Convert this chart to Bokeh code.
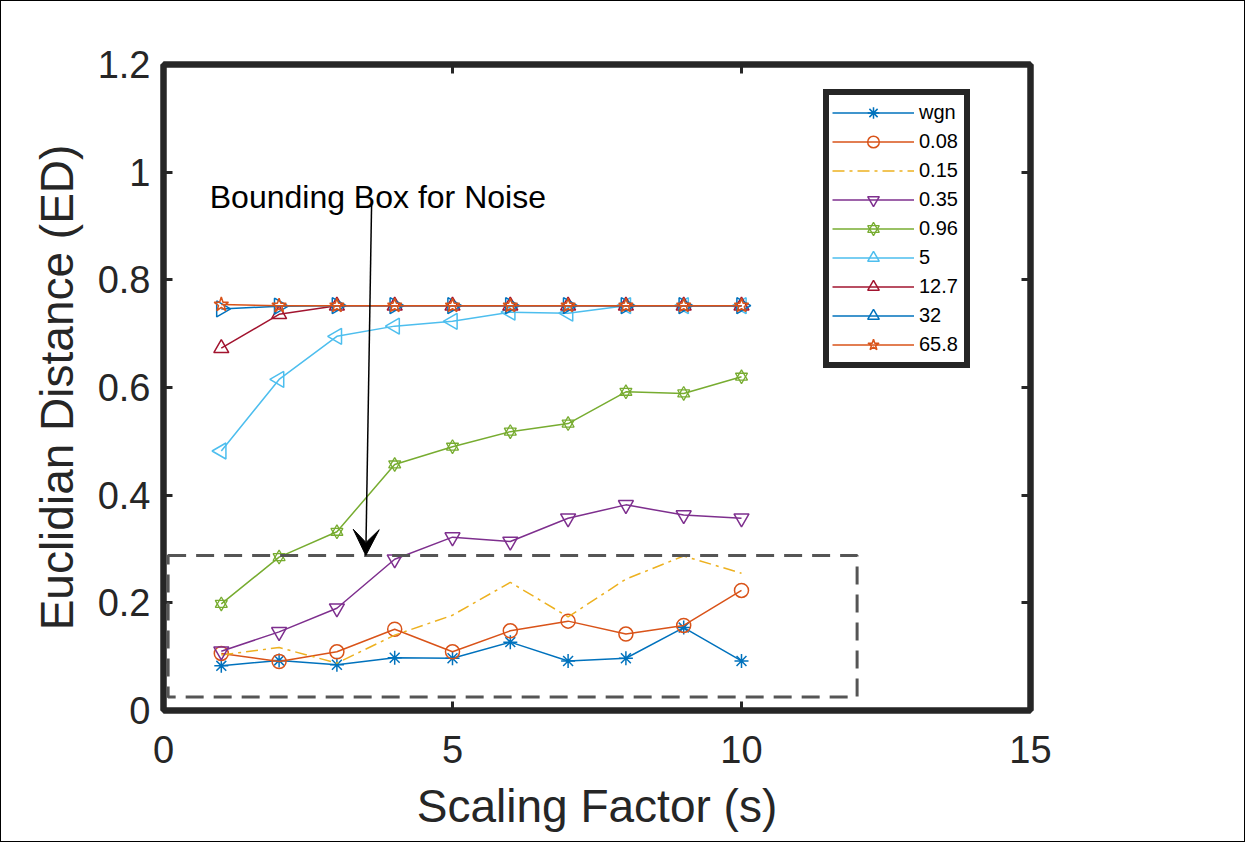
import math
from bokeh.plotting import figure
from bokeh.models import (LinearAxis, FixedTicker, CustomJSTickFormatter, Range1d,
                          Legend, LegendItem, Arrow, VeeHead, Label, BoxAnnotation)
from bokeh.embed import file_html
from bokeh.resources import INLINE

# ---------------- data ----------------
scaling = [1, 2, 3, 4, 5, 6, 7, 8, 9, 10]
series_labels = ["wgn", "0.08", "0.15", "0.35", "0.96", "5", "12.7", "32", "65.8"]
ed_wgn = [0.083, 0.093, 0.085, 0.098, 0.097, 0.127, 0.092, 0.097, 0.154, 0.092]
ed_008 = [0.106, 0.091, 0.109, 0.151, 0.109, 0.148, 0.166, 0.142, 0.158, 0.223]
ed_015 = [0.103, 0.117, 0.088, 0.140, 0.177, 0.238, 0.174, 0.244, 0.287, 0.255]
ed_035 = [0.110, 0.146, 0.190, 0.281, 0.322, 0.314, 0.357, 0.382, 0.363, 0.357]
ed_096 = [0.198, 0.285, 0.332, 0.457, 0.490, 0.518, 0.533, 0.592, 0.589, 0.620]
ed_5 = [0.482, 0.615, 0.695, 0.714, 0.723, 0.740, 0.738, 0.752, 0.752, 0.752]
ed_127 = [0.673, 0.736, 0.752, 0.752, 0.752, 0.752, 0.752, 0.752, 0.752, 0.752]
ed_32 = [0.746, 0.751, 0.752, 0.752, 0.752, 0.752, 0.752, 0.752, 0.752, 0.752]
ed_658 = [0.754, 0.752, 0.752, 0.752, 0.752, 0.752, 0.752, 0.752, 0.752, 0.752]
x_ticks = [0, 5, 10, 15]
y_ticks = [0, 0.2, 0.4, 0.6, 0.8, 1, 1.2]

x_title = "Scaling Factor (s)"
y_title = "Euclidian Distance (ED)"
annotation_text = "Bounding Box for Noise"
noise_box = {"left": 0.08, "right": 12.0, "bottom": 0.025, "top": 0.288}
arrow_from = (3.6, 0.94)
arrow_to = (3.5, 0.288)

# ---------------- styling ----------------
FONT = "Liberation Sans"
AX = "#262626"
colors = ["#0072BD", "#D95319", "#EDB120", "#7E2F8E", "#77AC30",
          "#4DBEEE", "#A2142F", "#0072BD", "#D95319"]

p = figure(frame_width=867, frame_height=646,
           min_border_left=162, min_border_right=214,
           min_border_top=63, min_border_bottom=131,
           x_range=Range1d(0, 15), y_range=Range1d(0, 1.2),
           output_backend="svg", toolbar_location=None,
           background_fill_color="white", border_fill_color="white")
p.grid.visible = False
p.outline_line_color = AX
p.outline_line_width = 6
p.styles = {"border": "1px solid black"}

fmt = CustomJSTickFormatter(code="return tick.toString();")
blank_fmt = CustomJSTickFormatter(code="return '';")


def style_axis(ax, ticks, show_labels):
    ax.ticker = FixedTicker(ticks=ticks)
    ax.axis_line_color = AX
    ax.axis_line_width = 6
    ax.major_tick_in = 9
    ax.major_tick_out = 0
    ax.major_tick_line_width = 3
    ax.major_tick_line_color = AX
    ax.minor_tick_line_color = None
    ax.major_label_text_font = FONT
    ax.major_label_text_color = AX
    if show_labels:
        ax.formatter = fmt
        ax.major_label_text_font_size = "38px"
    else:
        ax.formatter = blank_fmt
        ax.major_label_text_font_size = "10px"
        ax.major_label_standoff = 0


xax = p.xaxis[0]
yax = p.yaxis[0]
style_axis(xax, x_ticks, True)
style_axis(yax, y_ticks, True)
xax.major_label_standoff = 25
yax.major_label_standoff = 13

top_ax = LinearAxis()
right_ax = LinearAxis()
style_axis(top_ax, x_ticks, False)
style_axis(right_ax, y_ticks, False)
p.add_layout(top_ax, "above")
p.add_layout(right_ax, "right")

for ax, title in ((xax, x_title), (yax, y_title)):
    ax.axis_label = title
    ax.axis_label_text_font = FONT
    ax.axis_label_text_font_size = "46px"
    ax.axis_label_text_font_style = "normal"
    ax.axis_label_text_color = AX
xax.axis_label_standoff = 14
yax.axis_label_standoff = 12

# ---------------- series ----------------
series_values = [ed_wgn, ed_008, ed_015, ed_035, ed_096, ed_5, ed_127, ed_32, ed_658]
markers = [("asterisk", 0), ("circle", 0), (None, 0), ("inverted_triangle", 0),
           ("hexagram", 0), ("triangle", math.pi / 2), ("triangle", 0),
           ("triangle", -math.pi / 2), ("star", 0)]
sizes = [14, 14, 0, 15, 12, 16, 15, 16, 15]

items = []
for lab, vals, col, (mk, ang), sz in zip(series_labels, series_values, colors, markers, sizes):
    rs = []
    dash = "12 5 3 5" if mk is None else "solid"
    rs.append(p.line(scaling, vals, line_color=col, line_width=1.5, line_dash=dash))
    if mk == "hexagram":
        for m in ("triangle", "inverted_triangle"):
            rs.append(p.scatter(scaling, vals, marker=m, size=sz, line_color=col,
                                fill_color=None, line_width=1.3))
    elif mk is not None:
        rs.append(p.scatter(scaling, vals, marker=mk, size=sz, angle=ang,
                            line_color=col, fill_color=None, line_width=1.5))
    items.append(LegendItem(label=lab, renderers=rs))

legend = Legend(items=items, location=(660, 342),
                border_line_color=AX, border_line_width=6, border_line_alpha=1,
                background_fill_color="white", background_fill_alpha=1,
                padding=3, spacing=0, margin=0,
                glyph_width=82, glyph_height=29,
                label_height=29, label_width=42, label_standoff=5,
                label_text_font=FONT, label_text_font_size="20px",
                label_text_color="#000000")
p.add_layout(legend)

# ---------------- annotations ----------------
p.add_layout(BoxAnnotation(left=noise_box["left"], right=noise_box["right"],
                           bottom=noise_box["bottom"], top=noise_box["top"],
                           fill_color=None, fill_alpha=0,
                           line_color="#555555", line_alpha=1, line_width=3,
                           line_dash="18 10"))
p.add_layout(Arrow(end=VeeHead(size=26, fill_color="black", line_color="black"),
                   x_start=arrow_from[0], y_start=arrow_from[1],
                   x_end=arrow_to[0], y_end=arrow_to[1],
                   line_color="black", line_width=1.5))
p.add_layout(Label(x=0.8, y=0.954, text=annotation_text, text_font=FONT,
                   text_font_size="32px", text_color="#000000",
                   text_baseline="alphabetic", text_align="left"))

open("out.html", "w").write(file_html(p, INLINE))
